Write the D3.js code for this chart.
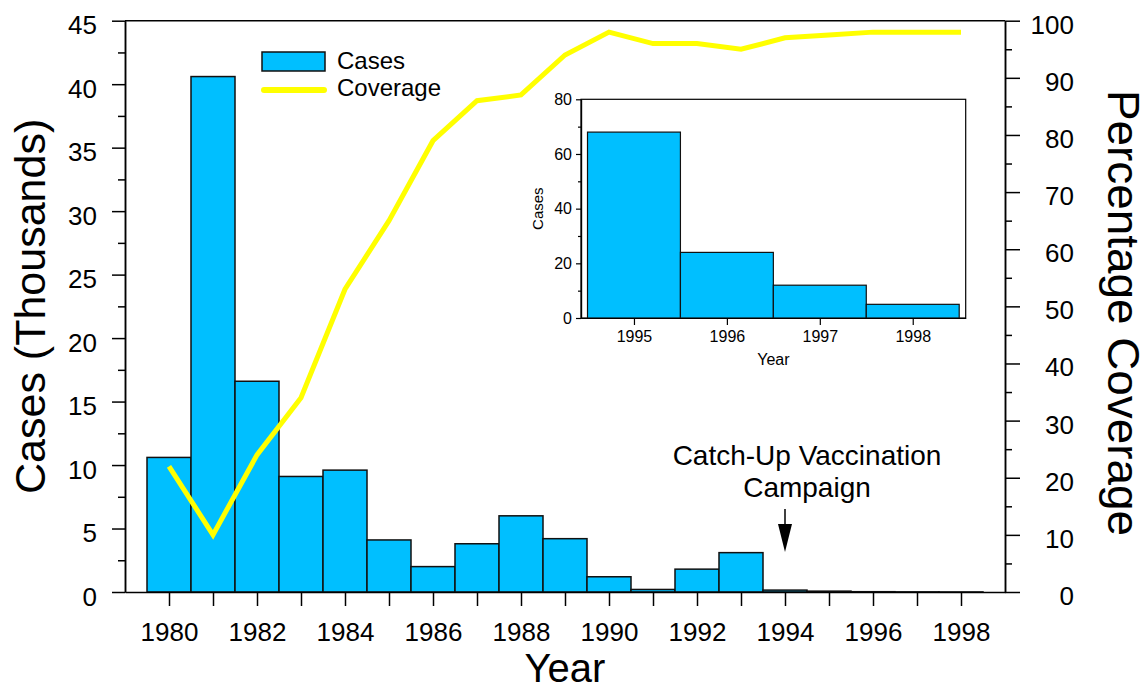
<!DOCTYPE html>
<html>
<head>
<meta charset="utf-8">
<script src="https://cdn.jsdelivr.net/npm/d3@7"></script>
<style>
  body { margin: 0; background: #fff; }
  svg { display: block; font-family: "Liberation Sans", Arial, Helvetica, sans-serif; }
</style>
</head>
<body>
<svg id="chart" width="1148" height="691"></svg>
<script>
// cases per year (thousands) and vaccination coverage (%)
const years = [1980, 1981, 1982, 1983, 1984, 1985, 1986, 1987, 1988, 1989,
               1990, 1991, 1992, 1993, 1994, 1995, 1996, 1997, 1998];
const casesK = [10.6, 40.6, 16.6, 9.1, 9.6, 4.1, 2.0, 3.8, 6.0, 4.2,
                1.2, 0.2, 1.8, 3.1, 0.15, 0.068, 0.024, 0.012, 0.005];
const coverage = [22, 10, 24, 34, 53, 65, 79, 86, 87, 94,
                  98, 96, 96, 95, 97, 97.5, 98, 98, 98];

// inset: raw case counts for the last years
const insetYears = [1995, 1996, 1997, 1998];
const insetCases = [68, 24, 12, 5];

const leftTicks = [0, 5, 10, 15, 20, 25, 30, 35, 40, 45];
const rightTicks = [0, 10, 20, 30, 40, 50, 60, 70, 80, 90, 100];
const yearLabels = [1980, 1982, 1984, 1986, 1988, 1990, 1992, 1994, 1996, 1998];
const insetYTicks = [0, 20, 40, 60, 80];

const BAR = '#00bfff';
const LINE = '#ffff00';

const svg = d3.select('#chart');

const plot = {left: 125, right: 1005, top: 20.7, bottom: 592};
const x = d3.scaleLinear().domain([1979, 1999]).range([plot.left, plot.right]);
const yL = d3.scaleLinear().domain([0, 45]).range([plot.bottom, plot.top]);
const yR = d3.scaleLinear().domain([0, 100]).range([plot.bottom, plot.top]);

// bars
svg.append('g').selectAll('rect')
  .data(years.map((yr, i) => ({yr, v: casesK[i]})))
  .join('rect')
    .attr('x', d => x(d.yr - 0.5))
    .attr('width', d => x(d.yr + 0.5) - x(d.yr - 0.5))
    .attr('y', d => yL(d.v))
    .attr('height', d => yL(0) - yL(d.v))
    .attr('fill', BAR)
    .attr('stroke', '#111')
    .attr('stroke-width', 1.5);

// frame: top line
svg.append('line')
  .attr('x1', plot.left).attr('x2', plot.right)
  .attr('y1', plot.top).attr('y2', plot.top)
  .attr('stroke', '#000').attr('stroke-width', 1.5);

function styleAxis(g) {
  g.select('.domain').attr('stroke', '#000').attr('stroke-width', 1.5);
  g.selectAll('.tick line').attr('stroke', '#000').attr('stroke-width', 1.5);
  g.selectAll('text').attr('fill', '#000');
}

// left axis
svg.append('g').attr('transform', `translate(${plot.left},0)`)
  .call(d3.axisLeft(yL).tickValues(d3.range(2.5, 45, 5)).tickSize(7).tickFormat('').tickSizeOuter(0))
  .call(styleAxis);
const gL2 = svg.append('g').attr('transform', `translate(${plot.left},0)`)
  .call(d3.axisLeft(yL).tickValues(leftTicks).tickSize(13).tickPadding(15).tickSizeOuter(0))
  .call(styleAxis);
gL2.selectAll('text').attr('font-size', 26).attr('dy', '0.5em');

// right axis
svg.append('g').attr('transform', `translate(${plot.right},0)`)
  .call(d3.axisRight(yR).tickValues(d3.range(5, 100, 10)).tickSize(7).tickFormat('').tickSizeOuter(0))
  .call(styleAxis);
const gR2 = svg.append('g').attr('transform', `translate(${plot.right},0)`)
  .call(d3.axisRight(yR).tickValues(rightTicks).tickSize(15).tickSizeOuter(0))
  .call(styleAxis);
gR2.selectAll('text').attr('font-size', 26).attr('text-anchor', 'end').attr('x', 69).attr('dy', '0.48em');

// bottom axis
const gB = svg.append('g').attr('transform', `translate(0,${plot.bottom})`)
  .call(d3.axisBottom(x).tickValues(years).tickSize(14).tickSizeOuter(0)
    .tickFormat(d => yearLabels.includes(d) ? d : ''))
  .call(styleAxis);
gB.selectAll('text').attr('font-size', 26).attr('y', 49).attr('dy', 0);

// coverage line
svg.append('path')
  .datum(years.map((yr, i) => [yr, coverage[i]]))
  .attr('fill', 'none')
  .attr('stroke', LINE)
  .attr('stroke-width', 5)
  .attr('stroke-linejoin', 'miter')
  .attr('d', d3.line().x(d => x(d[0])).y(d => yR(d[1])));

// axis titles
svg.append('text')
  .attr('transform', `translate(45,${(plot.top + plot.bottom) / 2}) rotate(-90)`)
  .attr('text-anchor', 'middle').attr('font-size', 43)
  .text('Cases (Thousands)');
svg.append('text')
  .attr('transform', `translate(1108,313) rotate(90)`)
  .attr('text-anchor', 'middle').attr('font-size', 44)
  .attr('textLength', 446).attr('lengthAdjust', 'spacingAndGlyphs')
  .text('Percentage Coverage');
svg.append('text')
  .attr('x', (plot.left + plot.right) / 2).attr('y', 682)
  .attr('text-anchor', 'middle').attr('font-size', 40)
  .text('Year');

// legend
const lg = svg.append('g');
lg.append('rect').attr('x', 262).attr('y', 52).attr('width', 63).attr('height', 19)
  .attr('fill', BAR).attr('stroke', '#111').attr('stroke-width', 1.5);
lg.append('line').attr('x1', 264).attr('x2', 324).attr('y1', 90).attr('y2', 90)
  .attr('stroke', LINE).attr('stroke-width', 6).attr('stroke-linecap', 'round');
lg.append('text').attr('x', 337).attr('y', 69).attr('font-size', 24).text('Cases');
lg.append('text').attr('x', 337).attr('y', 96).attr('font-size', 24).text('Coverage');

// annotation
const ann = svg.append('g');
ann.append('text').attr('x', 807).attr('y', 465).attr('text-anchor', 'middle')
  .attr('font-size', 28).text('Catch-Up Vaccination');
ann.append('text').attr('x', 807).attr('y', 497).attr('text-anchor', 'middle')
  .attr('font-size', 28).text('Campaign');
const ax = x(1994);
ann.append('line').attr('x1', ax).attr('x2', ax).attr('y1', 509).attr('y2', 526)
  .attr('stroke', '#000').attr('stroke-width', 1.5);
ann.append('path')
  .attr('d', `M${ax - 7},524 L${ax + 7},524 L${ax},552 Z`)
  .attr('fill', '#000');

// inset
const ins = {left: 581, right: 965.7, top: 99.3, bottom: 318};
const xi = d3.scaleLinear().domain([1994.43, 1998.57]).range([ins.left, ins.right]);
const yi = d3.scaleLinear().domain([0, 80]).range([ins.bottom, ins.top]);
const gi = svg.append('g');
gi.append('rect')
  .attr('x', ins.left).attr('y', ins.top)
  .attr('width', ins.right - ins.left).attr('height', ins.bottom - ins.top)
  .attr('fill', '#fff').attr('stroke', '#000').attr('stroke-width', 1.2);
gi.selectAll('rect.ibar')
  .data(insetYears.map((yr, i) => ({yr, v: insetCases[i]})))
  .join('rect')
    .attr('class', 'ibar')
    .attr('x', d => xi(d.yr - 0.5))
    .attr('width', d => xi(d.yr + 0.5) - xi(d.yr - 0.5))
    .attr('y', d => yi(d.v))
    .attr('height', d => yi(0) - yi(d.v))
    .attr('fill', BAR).attr('stroke', '#111').attr('stroke-width', 1.2);

function styleInset(g) {
  g.select('.domain').attr('stroke', '#000').attr('stroke-width', 1.2);
  g.selectAll('.tick line').attr('stroke', '#000').attr('stroke-width', 1.2);
  g.selectAll('text').attr('fill', '#000');
}
gi.append('g').attr('transform', `translate(${ins.left},0)`)
  .call(d3.axisLeft(yi).tickValues([10, 30, 50, 70]).tickSize(3).tickFormat('').tickSizeOuter(0))
  .call(styleInset);
const giL = gi.append('g').attr('transform', `translate(${ins.left},0)`)
  .call(d3.axisLeft(yi).tickValues(insetYTicks).tickSize(5).tickPadding(4).tickSizeOuter(0))
  .call(styleInset);
giL.selectAll('text').attr('font-size', 16);
const giB = gi.append('g').attr('transform', `translate(0,${ins.bottom})`)
  .call(d3.axisBottom(xi).tickValues(insetYears).tickSize(7).tickFormat(d3.format('d')).tickSizeOuter(0))
  .call(styleInset);
giB.selectAll('text').attr('font-size', 16).attr('y', 24).attr('dy', 0);
gi.append('text').attr('x', (ins.left + ins.right) / 2).attr('y', 365)
  .attr('text-anchor', 'middle').attr('font-size', 16).text('Year');
gi.append('text')
  .attr('transform', `translate(543,${(ins.top + ins.bottom) / 2}) rotate(-90)`)
  .attr('text-anchor', 'middle').attr('font-size', 15).text('Cases');
</script>
</body>
</html>
